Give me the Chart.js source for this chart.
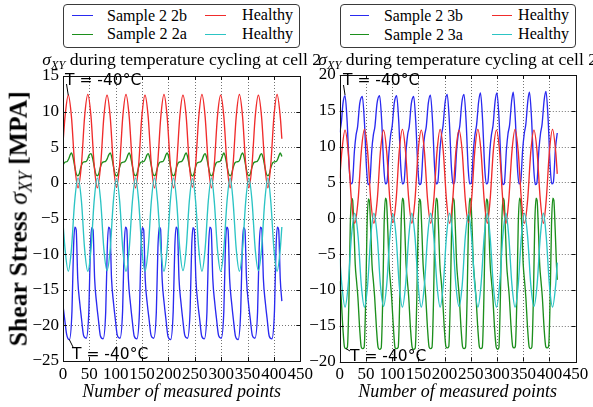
<!DOCTYPE html>
<html><head><meta charset="utf-8">
<script src="https://cdn.jsdelivr.net/npm/chart.js@4.4.1/dist/chart.umd.min.js"></script>
<style>
html,body{margin:0;padding:0;background:#fff;}
#wrap{position:relative;width:593px;height:407px;overflow:hidden;background:#fff;}
canvas{position:absolute;left:0;top:0;}
.lg{position:absolute;border:1px solid #3a3a3a;border-radius:4px;background:#fff;box-sizing:border-box;z-index:3;}
.lg .it{position:absolute;font-family:"Liberation Serif","DejaVu Serif",serif;font-size:16px;white-space:nowrap;line-height:1;color:#000;}
.lg .ln{position:absolute;height:0;border-top:1.5px solid;}
.ttl{position:absolute;font-family:"Liberation Serif",serif;white-space:nowrap;line-height:1;color:#000;z-index:2;}
.ttl i{font-style:italic;}
.ttl .sb{font-size:0.7em;font-style:italic;position:relative;top:0.28em;}
.ylab{position:absolute;font-family:"Liberation Serif",serif;white-space:nowrap;line-height:1;color:#000;transform-origin:50% 50%;z-index:2;}
.ylab b{font-weight:bold;}
.ylab .sb{font-size:0.7em;font-style:italic;position:relative;top:0.28em;}
</style>
</head>
<body>
<div id="wrap">
<canvas id="cL" width="593" height="407"></canvas>
<canvas id="cR" width="593" height="407"></canvas>
</div>
<script>
// ---------------- data ----------------
const xTickValues = [0, 50, 100, 150, 200, 250, 300, 350, 400, 450];
const yTicksLeft = [-25, -20, -15, -10, -5, 0, 5, 10, 15];
const yTicksRight = [-20, -15, -10, -5, 0, 5, 10, 15, 20];
const seriesLabelsLeft = ['Sample 2 2b', 'Sample 2 2a', 'Healthy', 'Healthy'];
const seriesLabelsRight = ['Sample 2 3b', 'Sample 2 3a', 'Healthy', 'Healthy'];
const titleText = 'during temperature cycling at cell 2';
const xAxisTitle = 'Number of measured points';
const noteText = 'T = -40°C';

// healthy reference (same in both panels)
const xHealthy = [0, 4, 10, 16, 22, 28.5,
  35, 41, 47, 53, 59, 65,
  71.5, 77.5, 83.5, 89.5, 95.5, 101.5,
  107.5, 113.5, 119.5, 125.5, 131.5, 137.5,
  143.5, 149.5, 155.5, 161.5, 167.5, 173.5,
  179.5, 185.5, 191.5, 197.5, 203.5, 209.5,
  215.5, 221.5, 227.5, 233.5, 239.5, 245.5,
  251.5, 257.5, 263.5, 269.5, 275.5, 281.5,
  287, 293, 299, 305, 311, 317,
  322.5, 328.5, 334.5, 340.5, 346.5, 352.5,
  358.5, 364.5, 370.5, 376.5, 382.5, 388.5,
  394, 400, 406, 412, 415];
const yHealthyRed = [5.6, 9.4, 12.3, 9.3, 2.7, -0.7,
  2.6, 9.3, 12.4, 9.4, 2.6, -0.7,
  2.6, 9.3, 12.3, 9.3, 2.6, -0.6,
  2.6, 9.4, 12.4, 9.3, 2.7, -0.7,
  2.6, 9.3, 12.3, 9.3, 2.6, -0.7,
  2.7, 9.3, 12.4, 9.3, 2.6, -0.7,
  2.6, 9.3, 12.3, 9.4, 2.6, -0.6,
  2.6, 9.3, 12.4, 9.3, 2.6, -0.7,
  2.7, 9.4, 12.3, 9.3, 2.6, -0.7,
  2.6, 9.3, 12.4, 9.3, 2.6, -0.7,
  2.6, 9.3, 12.3, 9.3, 2.7, -0.7,
  2.6, 9.3, 12.4, 9.3, 6.2];
const yHealthyCyan = [-5.6, -9.4, -12.4, -9.3, -2.7, 0.7,
  -2.6, -9.3, -12.4, -9.4, -2.6, 0.7,
  -2.6, -9.3, -12.3, -9.3, -2.6, 0.6,
  -2.6, -9.4, -12.4, -9.3, -2.7, 0.7,
  -2.6, -9.3, -12.4, -9.3, -2.6, 0.7,
  -2.7, -9.3, -12.4, -9.3, -2.6, 0.7,
  -2.6, -9.3, -12.3, -9.4, -2.6, 0.6,
  -2.6, -9.3, -12.4, -9.3, -2.6, 0.7,
  -2.7, -9.4, -12.4, -9.3, -2.6, 0.7,
  -2.6, -9.3, -12.4, -9.3, -2.6, 0.7,
  -2.6, -9.3, -12.3, -9.3, -2.7, 0.7,
  -2.6, -9.3, -12.4, -9.3, -6.2];

// Sample 2 2b (left, blue)
const x2b = [0, 3, 7,
  12, 17, 20, 22.5, 25, 28, 32, 35, 39,
  44, 49, 52, 54.5, 57, 60, 64, 67, 71,
  76, 81, 84, 86.5, 89, 92, 96, 99, 103,
  108, 113, 116, 118.5, 121, 124, 128, 131, 135,
  140, 145, 148, 150.5, 153, 156, 160, 163, 167,
  172, 177, 180, 182.5, 185, 188, 192, 195, 199,
  204, 209, 212, 214.5, 217, 220, 224, 227, 231,
  236, 241, 244, 246.5, 249, 252, 256, 259, 263,
  268, 273, 276, 278.5, 281, 284, 288, 291, 295,
  300, 305, 308, 310.5, 313, 316, 320, 323, 327,
  332, 337, 340, 342.5, 345, 348, 352, 355, 359,
  364, 369, 372, 374.5, 377, 380, 384, 387, 391,
  396, 401, 404, 406.5, 409, 412, 415];
const y2b = [-17.2, -19.0, -21.3,
  -22.0, -18.0, -9.0, -6.2, -6.6, -13.5, -17.0, -19.0, -21.4,
  -21.8, -18.0, -9.0, -6.3, -6.6, -13.5, -17.1, -19.1, -21.5,
  -21.9, -18.1, -9.1, -6.2, -6.5, -13.4, -17.0, -19.0, -21.4,
  -21.8, -18.0, -9.0, -6.2, -6.6, -13.5, -17.0, -19.1, -21.5,
  -21.9, -18.0, -9.0, -6.3, -6.6, -13.6, -17.1, -19.0, -21.4,
  -21.8, -18.1, -9.1, -6.2, -6.5, -13.5, -17.0, -19.0, -21.5,
  -22.0, -18.0, -9.0, -6.2, -6.6, -13.5, -17.0, -19.1, -21.4,
  -21.8, -18.0, -9.0, -6.3, -6.6, -13.5, -17.1, -19.0, -21.5,
  -21.9, -18.1, -9.1, -6.2, -6.5, -13.4, -17.0, -19.0, -21.4,
  -21.8, -18.0, -9.0, -6.2, -6.6, -13.5, -17.0, -19.1, -21.5,
  -22.0, -18.0, -9.0, -6.3, -6.6, -13.5, -17.1, -19.0, -21.4,
  -21.8, -18.1, -9.1, -6.2, -6.5, -13.5, -17.0, -19.0, -21.5,
  -21.9, -18.0, -9.0, -6.2, -6.6, -13.5, -16.6];

// Sample 2 2a (left, green)
const x2a = [0, 3.5, 8, 11, 13.5,
  16, 19, 22, 25, 28, 30.5, 33.5, 37, 40.5, 44, 47, 49.5,
  53, 56, 59, 62, 65, 67.5, 70.5, 74, 77.5, 81, 84, 86.5,
  89.5, 92.5, 95.5, 98.5, 101.5, 104, 107, 110.5, 114, 117.5, 120.5, 123,
  125.5, 128.5, 131.5, 134.5, 137.5, 140, 143, 146.5, 150, 153.5, 156.5, 159,
  161.5, 164.5, 167.5, 170.5, 173.5, 176, 179, 182.5, 186, 189.5, 192.5, 195,
  197.5, 200.5, 203.5, 206.5, 209.5, 212, 215, 218.5, 222, 225.5, 228.5, 231,
  233.5, 236.5, 239.5, 242.5, 245.5, 248, 251, 254.5, 258, 261.5, 264.5, 267,
  269.5, 272.5, 275.5, 278.5, 281.5, 284, 287, 290.5, 294, 297.5, 300.5, 303,
  305, 308, 311, 314, 317, 319.5, 322.5, 326, 329.5, 333, 336, 338,
  340.5, 343.5, 346.5, 349.5, 352.5, 355, 358, 361.5, 365, 368.5, 371.5, 374,
  376.5, 379.5, 382.5, 385.5, 388.5, 391, 394, 397.5, 401, 404.5, 407.5, 410,
  412, 415];
const y2a = [2.5, 2.9, 3.0, 3.4, 3.9,
  4.2, 3.6, 2.4, 1.3, 1.0, 1.2, 2.1, 2.8, 2.95, 3.0, 3.4, 3.9,
  4.1, 3.5, 2.4, 1.3, 1.0, 1.2, 2.1, 2.8, 2.95, 3.05, 3.4, 3.9,
  4.2, 3.6, 2.4, 1.3, 0.95, 1.2, 2.1, 2.8, 2.9, 3.0, 3.4, 3.9,
  4.2, 3.6, 2.4, 1.3, 1.0, 1.2, 2.1, 2.8, 2.95, 3.0, 3.4, 3.9,
  4.1, 3.5, 2.4, 1.3, 1.0, 1.25, 2.1, 2.8, 2.95, 3.0, 3.4, 3.9,
  4.2, 3.6, 2.4, 1.3, 1.0, 1.2, 2.1, 2.8, 2.95, 3.05, 3.4, 3.9,
  4.2, 3.6, 2.4, 1.3, 0.95, 1.2, 2.1, 2.8, 2.9, 3.0, 3.4, 3.9,
  4.1, 3.5, 2.4, 1.3, 1.0, 1.2, 2.1, 2.8, 2.95, 3.0, 3.4, 3.9,
  4.2, 3.6, 2.4, 1.3, 1.0, 1.2, 2.1, 2.8, 2.95, 3.0, 3.4, 3.9,
  4.2, 3.6, 2.4, 1.3, 1.0, 1.2, 2.1, 2.8, 2.95, 3.05, 3.4, 3.9,
  4.1, 3.5, 2.4, 1.3, 1.0, 1.2, 2.1, 2.8, 2.95, 3.0, 3.4, 3.9,
  4.2, 3.7];

// Sample 2 3b (right, blue)
const x3b = [0, 3, 6,
  10, 14, 18, 21, 24, 28, 31, 34, 38,
  43, 47, 51, 54, 57, 61, 64, 67, 71,
  76, 80, 84, 87, 90, 94, 97, 100, 104,
  108.5, 112.5, 116.5, 119.5, 122.5, 126.5, 129.5, 132.5, 136.5,
  141, 145, 149, 152, 155, 159, 162, 165, 169,
  173, 177, 181, 184, 187, 191, 194, 197, 201,
  205, 209, 213, 216, 219, 223, 226, 229, 233,
  237, 241, 245, 248, 251, 255, 258, 261, 265,
  268.5, 272.5, 276.5, 279.5, 282.5, 286.5, 289.5, 292.5, 296.5,
  300, 304, 308, 311, 314, 318, 321, 324, 328,
  331, 335, 339, 342, 345, 349, 352, 355, 359,
  362, 366, 370, 373, 376, 380, 383, 386, 390,
  393.5, 397.5, 401.5, 404.5, 407.5, 411.5, 415];
const y3b = [12.0, 13.4, 16.0,
  17.1, 13.5, 7.0, 4.8, 5.0, 9.5, 11.6, 12.8, 16.0,
  17.0, 13.4, 7.0, 4.7, 4.9, 9.5, 11.6, 12.8, 16.0,
  17.1, 13.5, 7.1, 4.8, 5.0, 9.4, 11.6, 12.9, 16.1,
  17.1, 13.5, 7.0, 4.8, 5.0, 9.5, 11.7, 12.8, 16.0,
  17.0, 13.4, 7.0, 4.7, 4.9, 9.5, 11.6, 12.8, 16.1,
  17.2, 13.5, 7.0, 4.8, 5.0, 9.5, 11.6, 12.9, 16.2,
  17.3, 13.6, 7.1, 4.8, 5.0, 9.5, 11.7, 12.9, 16.2,
  17.3, 13.6, 7.0, 4.8, 5.0, 9.5, 11.7, 13.0, 16.3,
  17.5, 13.7, 7.1, 4.8, 5.0, 9.6, 11.7, 13.0, 16.4,
  17.5, 13.7, 7.1, 4.7, 4.9, 9.6, 11.8, 13.0, 16.4,
  17.6, 13.8, 7.1, 4.8, 5.0, 9.6, 11.8, 13.1, 16.5,
  17.6, 13.8, 7.1, 4.7, 4.9, 9.6, 11.8, 13.1, 16.5,
  17.7, 13.9, 7.2, 4.8, 5.0, 9.7, 11.9];

// Sample 2 3a (right, green)
const x3a = [0, 2.5, 6, 9, 11.5,
  14.5, 17.5, 20, 22.5, 24.5, 27, 29.5, 32, 34.5, 38, 41, 43.5,
  46.5, 49.5, 52, 54.5, 56.5, 59, 61.5, 64, 66.5, 70, 73, 75.5,
  79, 82, 84.5, 87, 89, 91.5, 94, 96.5, 99, 102.5, 105.5, 108,
  111.5, 114.5, 117, 119.5, 121.5, 124, 126.5, 129, 131.5, 135, 138, 140.5,
  144, 147, 149.5, 152, 154, 156.5, 159, 161.5, 164, 167.5, 170.5, 173,
  176, 179, 181.5, 184, 186, 188.5, 191, 193.5, 196, 199.5, 202.5, 205,
  208, 211, 213.5, 216, 218, 220.5, 223, 225.5, 228, 231.5, 234.5, 237,
  240, 243, 245.5, 248, 250, 252.5, 255, 257.5, 260, 263.5, 266.5, 269,
  272, 275, 277.5, 280, 282, 284.5, 287, 289.5, 292, 295.5, 298.5, 301,
  303.5, 306.5, 309, 311.5, 313.5, 316, 318.5, 321, 323.5, 327, 330, 332.5,
  335, 338, 340.5, 343, 345, 347.5, 350, 352.5, 355, 358.5, 361.5, 364,
  366.5, 369.5, 372, 374.5, 376.5, 379, 381.5, 384, 386.5, 390, 393, 395.5,
  398.5, 401.5, 404, 406.5, 408.5, 411, 413.5, 415];
const y3a = [-8.8, -11.0, -15.5, -18.0, -18.2,
  -18.0, -11.0, -1.0, 2.8, 2.5, -1.5, -6.5, -8.8, -11.0, -15.5, -18.0, -18.2,
  -18.0, -11.1, -1.1, 2.7, 2.4, -1.5, -6.5, -8.7, -11.0, -15.4, -18.0, -18.3,
  -18.1, -11.0, -1.0, 2.8, 2.5, -1.4, -6.4, -8.8, -11.1, -15.5, -18.1, -18.2,
  -18.0, -11.0, -1.0, 2.8, 2.5, -1.5, -6.5, -8.8, -11.0, -15.5, -18.0, -18.3,
  -18.1, -11.1, -1.1, 2.7, 2.4, -1.5, -6.5, -8.8, -11.0, -15.5, -18.0, -18.2,
  -18.0, -11.0, -1.0, 2.8, 2.5, -1.5, -6.5, -8.7, -11.0, -15.4, -17.9, -18.1,
  -17.9, -11.0, -1.0, 2.8, 2.5, -1.4, -6.4, -8.8, -11.0, -15.5, -18.0, -18.2,
  -18.0, -11.0, -1.0, 2.8, 2.5, -1.5, -6.5, -8.8, -11.1, -15.5, -18.0, -18.2,
  -18.0, -11.1, -1.1, 2.7, 2.4, -1.5, -6.5, -8.8, -11.0, -15.5, -18.0, -18.3,
  -18.1, -11.0, -1.0, 2.8, 2.5, -1.5, -6.5, -8.8, -11.0, -15.4, -17.9, -18.1,
  -17.9, -11.0, -1.0, 2.8, 2.5, -1.4, -6.4, -8.7, -11.0, -15.5, -18.0, -18.2,
  -18.0, -11.0, -1.0, 2.8, 2.5, -1.5, -6.5, -8.8, -11.0, -15.5, -17.9, -18.1,
  -17.9, -11.0, -1.0, 2.8, 2.5, -1.5, -6.5, -8.6];

// ---------------- rendering ----------------
const W = 593, H = 407;
const BLUE = '#2a2af0', GREEN = '#1c8f1c', RED = '#f02c2c', CYAN = '#2cc4c4';

function fmt(v) { return String(v).replace('-', '\u2212'); }

const framePlugin = {
  id: 'frame',
  beforeDatasetsDraw(chart) {
    const {ctx, chartArea: a, scales: {x, y}} = chart;
    ctx.save();
    ctx.strokeStyle = 'rgba(0,0,0,0.55)';
    ctx.lineWidth = 1;
    ctx.setLineDash([1, 2]);
    x.ticks.forEach(t => {
      const px = Math.round(x.getPixelForValue(t.value)) + 0.5;
      if (px <= a.left + 1 || px >= a.right - 1) return;
      ctx.beginPath(); ctx.moveTo(px, a.top); ctx.lineTo(px, a.bottom); ctx.stroke();
    });
    y.ticks.forEach(t => {
      const py = Math.round(y.getPixelForValue(t.value)) + 0.5;
      if (py <= a.top + 1 || py >= a.bottom - 1) return;
      ctx.beginPath(); ctx.moveTo(a.left, py); ctx.lineTo(a.right, py); ctx.stroke();
    });
    ctx.restore();
  },
  afterDatasetsDraw(chart, args, opts) {
    const {ctx, chartArea: a, scales: {x, y}} = chart;
    ctx.save();
    ctx.setLineDash([]);
    ctx.strokeStyle = '#111';
    ctx.lineWidth = 1;
    const tl = 4;
    x.ticks.forEach(t => {
      const px = Math.round(x.getPixelForValue(t.value)) + 0.5;
      ctx.beginPath();
      ctx.moveTo(px, a.bottom); ctx.lineTo(px, a.bottom - tl);
      ctx.moveTo(px, a.top); ctx.lineTo(px, a.top + tl);
      ctx.stroke();
    });
    y.ticks.forEach(t => {
      const py = Math.round(y.getPixelForValue(t.value)) + 0.5;
      ctx.beginPath();
      ctx.moveTo(a.left, py); ctx.lineTo(a.left + tl, py);
      ctx.moveTo(a.right, py); ctx.lineTo(a.right - tl, py);
      ctx.stroke();
    });
    ctx.strokeRect(Math.round(a.left) + 0.5, Math.round(a.top) + 0.5,
      Math.round(a.right) - Math.round(a.left), Math.round(a.bottom) - Math.round(a.top));
    (opts.notes || []).forEach(n => {
      const ax = x.getPixelForValue(n.ax), ay = y.getPixelForValue(n.ay);
      ctx.strokeStyle = '#000';
      ctx.lineWidth = 1;
      ctx.beginPath(); ctx.moveTo(ax, ay); ctx.lineTo(n.lx, n.ly); ctx.stroke();
      ctx.fillStyle = '#000';
      ctx.font = '15.5px "DejaVu Sans", sans-serif';
      ctx.textBaseline = 'middle';
      ctx.textAlign = 'left';
      ctx.fillText(noteText, n.tx, n.ty);
    });
    ctx.restore();
  }
};

function buildChart(id, sets, yMin, yMax, yTicks, area, notes) {
  const yW = 40;
  return new Chart(document.getElementById(id), {
    type: 'line',
    data: {
      datasets: sets.map(s => ({
        label: s.label,
        data: s.xs.map((xv, j) => ({x: xv, y: s.ys[j]})),
        borderColor: s.color,
        backgroundColor: s.color,
        borderWidth: 1.35,
        pointRadius: 0,
        fill: false,
        cubicInterpolationMode: 'monotone',
        order: s.order
      }))
    },
    options: {
      responsive: false, animation: false, devicePixelRatio: 1,
      events: [],
      layout: {padding: {left: area.left - yW, right: W - area.right, top: area.top, bottom: 0}},
      plugins: {legend: {display: false}, tooltip: {enabled: false}, frame: {notes}},
      scales: {
        x: {
          type: 'linear', min: 0, max: 450,
          afterBuildTicks: s => { s.ticks = xTickValues.map(v => ({value: v})); },
          afterFit: s => { s.height = H - area.bottom; },
          grid: {display: false, drawTicks: false},
          border: {display: false},
          ticks: {font: {family: 'Liberation Serif', size: 17}, color: '#000', padding: 3,
                  maxRotation: 0, minRotation: 0, autoSkip: false, callback: v => fmt(v)},
          title: {display: true, text: xAxisTitle, color: '#000',
                  font: {family: 'Liberation Serif', size: 18, style: 'italic'},
                  padding: {top: 0, bottom: 4}}
        },
        y: {
          type: 'linear', min: yMin, max: yMax,
          afterBuildTicks: s => { s.ticks = yTicks.map(v => ({value: v})); },
          afterFit: s => { s.width = yW; },
          grid: {display: false, drawTicks: false},
          border: {display: false},
          ticks: {font: {family: 'Liberation Serif', size: 17}, color: '#000', padding: 4,
                  callback: v => fmt(v)}
        }
      }
    },
    plugins: [framePlugin]
  });
}

const leftSets = [
  {label: seriesLabelsLeft[0], xs: x2b, ys: y2b, color: BLUE, order: 3},
  {label: seriesLabelsLeft[1], xs: x2a, ys: y2a, color: GREEN, order: 2},
  {label: seriesLabelsLeft[2], xs: xHealthy, ys: yHealthyRed, color: RED, order: 1},
  {label: seriesLabelsLeft[3], xs: xHealthy, ys: yHealthyCyan, color: CYAN, order: 0}
];
const rightSets = [
  {label: seriesLabelsRight[0], xs: x3b, ys: y3b, color: BLUE, order: 3},
  {label: seriesLabelsRight[1], xs: x3a, ys: y3a, color: GREEN, order: 2},
  {label: seriesLabelsRight[2], xs: xHealthy, ys: yHealthyRed, color: RED, order: 1},
  {label: seriesLabelsRight[3], xs: xHealthy, ys: yHealthyCyan, color: CYAN, order: 0}
];

const chartL = buildChart('cL', leftSets, -25, 15, yTicksLeft,
  {left: 63, right: 300.3, top: 76, bottom: 361},
  [{ax: 10, ay: 12.3, tx: 65, ty: 80.5, lx: 66.5, ly: 84},
   {ax: 12, ay: -22, tx: 72, ty: 354.5, lx: 73.5, ly: 348}]);
const chartR = buildChart('cR', rightSets, -20, 20, yTicksRight,
  {left: 339.8, right: 575.6, top: 75, bottom: 361.5},
  [{ax: 10, ay: 17.2, tx: 343, ty: 81, lx: 343.5, ly: 85},
   {ax: 11.5, ay: -18.2, tx: 350, ty: 357, lx: 350, ly: 351}]);

const wrap = document.getElementById('wrap');

function fitWidth(el, target) {
  el.style.fontSize = '20px';
  const w = el.getBoundingClientRect().width;
  const fs = 20 * target / w;
  el.style.fontSize = fs + 'px';
  return fs;
}

function addTitle(chart) {
  const a = chart.chartArea;
  const el = document.createElement('div');
  el.className = 'ttl';
  el.innerHTML = '<i>\u03c3</i><span class="sb">XY</span> ' + titleText;
  wrap.appendChild(el);
  const fs = fitWidth(el, 279);
  const w2 = el.getBoundingClientRect().width;
  el.style.left = ((a.left + a.right) / 2 - w2 / 2) + 'px';
  el.style.top = (66 - 0.837 * fs) + 'px';
}
addTitle(chartL);
addTitle(chartR);

function addLegend(chart, box, cols) {
  const lg = document.createElement('div');
  lg.className = 'lg';
  lg.style.left = box.x + 'px'; lg.style.top = box.y + 'px';
  lg.style.width = box.w + 'px'; lg.style.height = box.h + 'px';
  wrap.appendChild(lg);
  const rows = [16, 35];
  chart.data.datasets.forEach((ds, i) => {
    const c = cols[Math.floor(i / 2)], ry = rows[i % 2] - box.y - 1;
    const ln = document.createElement('div');
    ln.className = 'ln';
    ln.style.borderColor = ds.borderColor;
    ln.style.left = (c.lineX - box.x - 1) + 'px';
    ln.style.width = c.lineW + 'px';
    ln.style.top = (ry - 0.75) + 'px';
    lg.appendChild(ln);
    const t = document.createElement('div');
    t.className = 'it';
    t.textContent = ds.label;
    lg.appendChild(t);
    const fs = fitWidth(t, c.textW[i % 2]);
    t.style.left = (c.textX - box.x - 1) + 'px';
    t.style.top = (ry - 0.5 * fs - 0.5) + 'px';
  });
}
addLegend(chartL, {x: 63, y: 4, w: 237, h: 44},
  [{lineX: 72, lineW: 21, textX: 107, textW: [80, 80]}, {lineX: 205, lineW: 21, textX: 242, textW: [51, 51]}]);
addLegend(chartR, {x: 340, y: 4, w: 236, h: 44},
  [{lineX: 350, lineW: 19, textX: 384, textW: [79, 79]}, {lineX: 492, lineW: 20, textX: 518, textW: [51, 51]}]);

(function addYLabel() {
  const el = document.createElement('div');
  el.className = 'ylab';
  el.innerHTML = '<b>Shear Stress </b><i>\u03c3</i><span class="sb">XY</span><b> [MPA]</b>';
  wrap.appendChild(el);
  fitWidth(el, 255);
  const r = el.getBoundingClientRect();
  el.style.left = (18 - r.width / 2) + 'px';
  el.style.top = (219 - r.height / 2) + 'px';
  el.style.transform = 'rotate(-90deg)';
})();
</script>
</body></html>
